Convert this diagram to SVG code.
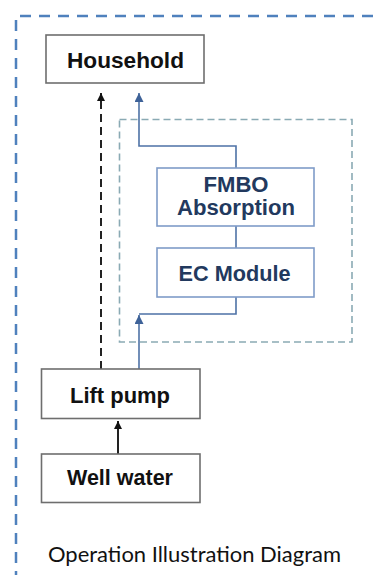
<svg xmlns="http://www.w3.org/2000/svg" width="374" height="575" viewBox="0 0 374 575">
<style>
.frame{fill:none;stroke:#4F81BD;stroke-width:2.5;stroke-dasharray:11 8}
.inner{fill:none;stroke:#8AAAB4;stroke-width:1.6;stroke-dasharray:7 4}
.gbox{fill:#fff;stroke:#6E6E6E;stroke-width:1.6}
.bbox{fill:#fff;stroke:#7F9CC8;stroke-width:1.6}
.t{font-family:"Liberation Sans",Arial,sans-serif;font-weight:bold;font-size:22px;text-anchor:middle;fill:#111}
.bt{font-family:"Liberation Sans",Arial,sans-serif;font-weight:bold;font-size:22px;text-anchor:middle;fill:#22395E}
.cap{font-family:Lato,"Open Sans",sans-serif;font-size:21px;fill:#111}
.blk{fill:none;stroke:#222;stroke-width:2}
.blu{fill:none;stroke:#4E72A6;stroke-width:1.6}
</style>
<defs>
<marker id="ab" viewBox="0 0 10 10" refX="10" refY="5" markerWidth="8" markerHeight="8" markerUnits="userSpaceOnUse" orient="auto"><path d="M0,0 L10,5 L0,10 z" fill="#111"/></marker>
<marker id="au" viewBox="0 0 10 10" refX="10" refY="5" markerWidth="9" markerHeight="9" markerUnits="userSpaceOnUse" orient="auto"><path d="M0,0 L10,5 L0,10 z" fill="#3E6298"/></marker>
</defs>
<line class="frame" x1="20" y1="16" x2="374" y2="16"/>
<line class="frame" x1="16" y1="20" x2="16" y2="575"/>
<rect id="subsystem" class="inner" x="119.5" y="119.5" width="232.5" height="222.5"/>
<g id="connectors">
<line class="blk" x1="101" y1="369" x2="101" y2="93" stroke-width="2.4" stroke-dasharray="8 5" marker-end="url(#ab)"/>
<line class="blk" x1="118" y1="454" x2="118" y2="421" marker-end="url(#ab)"/>
<polyline class="blu" points="236,168 236,146 139,146 139,93" marker-end="url(#au)"/>
<line class="blu" x1="236" y1="226" x2="236" y2="248"/>
<polyline class="blu" points="236,297 236,314 139,314"/>
<line class="blu" x1="139" y1="369" x2="139" y2="315" marker-end="url(#au)"/>
</g>
<g id="household"><rect class="gbox" x="46" y="35" width="158" height="48"/><text class="t" x="125.5" y="67.5" textLength="117" lengthAdjust="spacingAndGlyphs">Household</text></g>
<g id="fmbo"><rect class="bbox" x="157" y="168" width="157" height="58"/><text class="bt" x="236" y="191.5" textLength="65" lengthAdjust="spacingAndGlyphs">FMBO</text><text class="bt" x="236" y="214.5" textLength="118" lengthAdjust="spacingAndGlyphs">Absorption</text></g>
<g id="ec"><rect class="bbox" x="157" y="248" width="157" height="49"/><text class="bt" x="234.5" y="280.5" textLength="112" lengthAdjust="spacingAndGlyphs">EC Module</text></g>
<g id="liftpump"><rect class="gbox" x="41.5" y="369" width="158.5" height="49.5"/><text class="t" x="120" y="402.5" textLength="100" lengthAdjust="spacingAndGlyphs">Lift pump</text></g>
<g id="wellwater"><rect class="gbox" x="41.5" y="454" width="158.5" height="48.5"/><text class="t" x="120" y="485" textLength="106" lengthAdjust="spacingAndGlyphs">Well water</text></g>
<text class="cap" x="48" y="562" textLength="293" lengthAdjust="spacingAndGlyphs">Operation Illustration Diagram</text>
</svg>
